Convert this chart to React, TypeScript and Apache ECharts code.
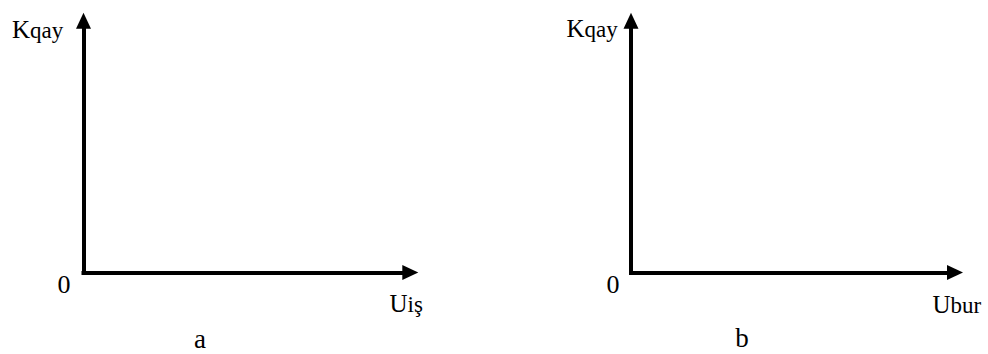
import React, { useEffect, useRef } from "react";
import * as echarts from "echarts";

// Panel definitions (labels only — the reference shows empty axes)
const panelIds = ["a", "b"];
const yAxisMain = ["K", "K"];
const yAxisSub = ["qay", "qay"];
const xAxisMain = ["U", "U"];
const xAxisSub = ["iş", "bur"];
const originLabels = ["0", "0"];
const captions = ["a", "b"];
const axisRange = [0, 1];

const FONT = '"Liberation Serif", "Times New Roman", serif';
const MAIN_FS = 25;
const SUB_FS = 23;

export default function App() {
  const ref = useRef<HTMLDivElement>(null);

  useEffect(() => {
    if (!ref.current) return;
    const chart = echarts.init(ref.current, undefined, { renderer: "svg" });

    // geometry of each panel (axis line positions)
    const geo = [
      { ox: 83.5, oy: 272.5, xEnd: 410.3, yEnd: 20.7 },
      { ox: 631, oy: 272.5, xEnd: 955, yEnd: 20.7 },
    ];
    const labelPos = [
      { kx: 12, kb: 38, ux: 389.5, ub: 312, zx: 64, zb: 293, cx: 200, cb: 348 },
      { kx: 566.5, kb: 37, ux: 932.5, ub: 313, zx: 613, zb: 293, cx: 742, cb: 347.5 },
    ];

    const axisLine = {
      show: true,
      symbol: ["none", "triangle"],
      symbolSize: [15, 16],
      lineStyle: { color: "#000", width: 4, cap: "square" },
    };

    const grids = geo.map((g) => ({
      left: g.ox,
      top: g.yEnd,
      width: g.xEnd - g.ox,
      height: g.oy - g.yEnd,
      containLabel: false,
    }));

    const mkAxis = (i: number) => ({
      type: "value",
      gridIndex: i,
      min: axisRange[0],
      max: axisRange[1],
      axisLine,
      axisTick: { show: false },
      axisLabel: { show: false },
      splitLine: { show: false },
    });

    const rich = {
      m: {
        fontFamily: FONT,
        fontSize: MAIN_FS,
        fill: "#000",
        verticalAlign: "bottom",
        lineHeight: MAIN_FS,
      },
      s: {
        fontFamily: FONT,
        fontSize: SUB_FS,
        fill: "#000",
        verticalAlign: "bottom",
        lineHeight: MAIN_FS,
      },
    };

    const subText = (main: string, sub: string, x: number, baseline: number) => ({
      type: "text",
      style: {
        text: `{m|${main}}{s|${sub}}`,
        rich,
        fontFamily: FONT,
        fontSize: MAIN_FS,
        x,
        y: baseline + 0.1625 * MAIN_FS,
        textAlign: "left",
        textVerticalAlign: "bottom",
      },
    });

    const txt = (text: string, x: number, baseline: number, fs: number, lh: number) => ({
      type: "text",
      style: {
        text,
        x,
        y: baseline - 0.3375 * fs,
        fontFamily: FONT,
        fontSize: fs,
        lineHeight: lh,
        fill: "#000",
        textAlign: "center",
        textVerticalAlign: "middle",
      },
    });

    const graphics: any[] = [];
    panelIds.forEach((_, i) => {
      const p = labelPos[i];
      graphics.push(subText(yAxisMain[i], yAxisSub[i], p.kx, p.kb));
      graphics.push(subText(xAxisMain[i], xAxisSub[i], p.ux, p.ub));
      graphics.push(txt(originLabels[i], p.zx, p.zb, 26, 26));
      graphics.push(txt(captions[i], p.cx, p.cb, 27, 20));
    });

    chart.setOption({
      animation: false,
      backgroundColor: "#fff",
      grid: grids,
      xAxis: panelIds.map((_, i) => mkAxis(i)),
      yAxis: panelIds.map((_, i) => mkAxis(i)),
      series: panelIds.map((_, i) => ({
        type: "line",
        xAxisIndex: i,
        yAxisIndex: i,
        data: [],
      })),
      graphic: graphics,
    });

    return () => chart.dispose();
  }, []);

  return (
    <div
      ref={ref}
      style={{ position: "fixed", left: 0, top: 0, width: 988, height: 354, background: "#fff" }}
    />
  );
}
